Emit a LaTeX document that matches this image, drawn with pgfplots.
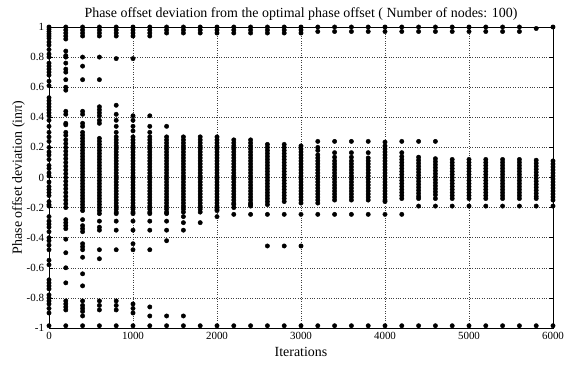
\documentclass[border=0pt]{standalone}
\usepackage{pgfplots}
\pgfplotsset{compat=1.18}
\usepackage{fontspec}
\setmainfont{Liberation Serif}
\begin{document}
\begin{tikzpicture}
\path[use as bounding box] (0,0) rectangle (564bp,366bp);
\begin{axis}[
  at={(49bp,38bp)}, anchor=south west,
  width=504bp, height=301bp, scale only axis,
  xmin=0, xmax=6000, ymin=-1, ymax=1,
  xtick={0,1000,2000,3000,4000,5000,6000},
  xticklabels={0,1000,2000,3000,4000,5000,6000},
  ytick={-1,-0.8,-0.6,-0.4,-0.2,0,0.2,0.4,0.6,0.8,1},
  yticklabels={-1,-0.8,-0.6,-0.4,-0.2,0,0.2,0.4,0.6,0.8,1},
  tick align=inside, tick pos=both, major tick length=4bp,
  grid=major, grid style={dotted, black!75, line width=0.5pt},
  axis line style={black, line width=0.6pt},
  tick style={black, line width=0.5pt},
  tick label style={font=\fontsize{11}{13}\selectfont},
  xticklabel style={yshift=-1bp},
  yticklabel style={xshift=-1.5bp},
  title={Phase offset deviation from the optimal phase offset ( Number of nodes: 100)},
  title style={font=\fontsize{14}{16}\selectfont, yshift=-3bp},
  xlabel={Iterations}, ylabel={Phase offset deviation (inπ)},
  label style={font=\fontsize{14}{16}\selectfont},
  xlabel style={yshift=-1bp}, ylabel style={yshift=-5bp},
  clip=false,
]
\addplot[only marks, mark=*, mark size=2.2bp, black] coordinates {
(0,1)(0,0.985)(0,0.97)(0,0.955)(0,0.94)(0,0.925)(0,0.9)(0,0.88)(0,0.85)(0,0.82)(0,0.8)(0,0.76)(0,0.74)(0,0.72)(0,0.7)(0,0.68)(0,0.64)(0,0.61)(0,0.53)(0,0.51)(0,0.49)(0,0.47)(0,0.45)(0,0.43)(0,0.41)(0,0.38)(0,0.34)(0,0.3)(0,0.27)(0,0.24)(0,0.2)(0,0.17)(0,0.15)(0,0.12)(0,0.08)(0,0.06)(0,0.03)(0,0.01)(0,-0.03)(0,-0.06)(0,-0.08)(0,-0.1)(0,-0.12)(0,-0.16)(0,-0.18)(0,-0.19)(0,-0.26)(0,-0.29)(0,-0.31)(0,-0.33)(0,-0.36)(0,-0.4)(0,-0.42)(0,-0.45)(0,-0.48)(0,-0.55)(0,-0.58)(0,-0.68)(0,-0.7)(0,-0.72)(0,-0.74)(0,-0.78)(0,-0.8)(0,-0.82)(0,-0.84)(0,-0.87)(0,-0.9)(0,-0.985)
(200,1)(200,0.98)(200,0.96)(200,0.94)(200,0.92)(200,0.84)(200,0.81)(200,0.8)(200,0.76)(200,0.72)(200,0.7)(200,0.65)(200,0.6)(200,0.58)(200,0.44)(200,0.42)(200,0.36)(200,0.35)(200,0.3)(200,0.28)
(200,0.25)(200,0.225)(200,0.2)(200,0.175)(200,0.15)(200,0.125)(200,0.1)(200,0.075)(200,0.05)(200,0.025)(200,0)(200,-0.025)(200,-0.05)(200,-0.075)(200,-0.1)(200,-0.125)(200,-0.15)(200,-0.175)(200,-0.2)
(200,-0.28)(200,-0.3)(200,-0.32)(200,-0.34)(200,-0.41)(200,-0.5)(200,-0.6)(200,-0.7)(200,-0.82)(200,-0.84)(200,-0.86)(200,-0.88)(200,-0.985)
(400,1)(400,0.98)(400,0.96)(400,0.94)(400,0.8)(400,0.74)(400,0.65)(400,0.44)(400,0.42)(400,0.36)(400,0.34)(400,0.3)
(400,0.28)(400,0.26)(400,0.24)(400,0.22)(400,0.2)(400,0.18)(400,0.16)(400,0.14)(400,0.12)(400,0.1)(400,0.08)(400,0.06)(400,0.04)(400,0.02)(400,0)(400,-0.02)(400,-0.04)(400,-0.06)(400,-0.08)(400,-0.1)(400,-0.12)(400,-0.14)(400,-0.16)(400,-0.18)(400,-0.2)(400,-0.22)
(400,-0.28)(400,-0.32)(400,-0.34)(400,-0.36)(400,-0.44)(400,-0.46)(400,-0.48)(400,-0.53)(400,-0.64)(400,-0.72)(400,-0.82)(400,-0.85)(400,-0.87)(400,-0.89)(400,-0.92)(400,-0.985)
(600,1)(600,0.98)(600,0.96)(600,0.94)(600,0.8)(600,0.65)(600,0.47)(600,0.45)(600,0.43)(600,0.41)(600,0.38)(600,0.36)
(600,0.26)(600,0.24)(600,0.22)(600,0.2)(600,0.18)(600,0.16)(600,0.14)(600,0.12)(600,0.1)(600,0.08)(600,0.06)(600,0.04)(600,0.02)(600,0)(600,-0.02)(600,-0.04)(600,-0.06)(600,-0.08)(600,-0.1)(600,-0.12)(600,-0.14)(600,-0.16)(600,-0.18)(600,-0.2)(600,-0.22)(600,-0.24)
(600,-0.29)(600,-0.33)(600,-0.35)(600,-0.48)(600,-0.54)(600,-0.82)(600,-0.85)(600,-0.88)(600,-0.985)
(800,1)(800,0.98)(800,0.96)(800,0.94)(800,0.79)(800,0.48)(800,0.42)(800,0.38)(800,0.34)(800,0.3)
(800,0.27)(800,0.25)(800,0.23)(800,0.21)(800,0.19)(800,0.17)(800,0.15)(800,0.13)(800,0.11)(800,0.09)(800,0.07)(800,0.05)(800,0.03)(800,0.01)(800,-0.01)(800,-0.03)(800,-0.05)(800,-0.07)(800,-0.09)(800,-0.11)(800,-0.13)(800,-0.15)(800,-0.17)(800,-0.19)(800,-0.21)(800,-0.23)(800,-0.24)
(800,-0.29)(800,-0.35)(800,-0.48)(800,-0.82)(800,-0.85)(800,-0.88)(800,-0.985)
(1000,1)(1000,0.98)(1000,0.96)(1000,0.94)(1000,0.79)(1000,0.41)(1000,0.38)(1000,0.34)(1000,0.31)
(1000,0.27)(1000,0.25)(1000,0.23)(1000,0.21)(1000,0.19)(1000,0.17)(1000,0.15)(1000,0.13)(1000,0.11)(1000,0.09)(1000,0.07)(1000,0.05)(1000,0.03)(1000,0.01)(1000,-0.01)(1000,-0.03)(1000,-0.05)(1000,-0.07)(1000,-0.09)(1000,-0.11)(1000,-0.13)(1000,-0.15)(1000,-0.17)(1000,-0.19)(1000,-0.21)(1000,-0.23)(1000,-0.24)
(1000,-0.29)(1000,-0.35)(1000,-0.44)(1000,-0.48)(1000,-0.84)(1000,-0.87)(1000,-0.9)(1000,-0.985)
(1200,1)(1200,0.98)(1200,0.96)(1200,0.94)(1200,0.41)(1200,0.34)(1200,0.3)
(1200,0.27)(1200,0.25)(1200,0.23)(1200,0.21)(1200,0.19)(1200,0.17)(1200,0.15)(1200,0.13)(1200,0.11)(1200,0.09)(1200,0.07)(1200,0.05)(1200,0.03)(1200,0.01)(1200,-0.01)(1200,-0.03)(1200,-0.05)(1200,-0.07)(1200,-0.09)(1200,-0.11)(1200,-0.13)(1200,-0.15)(1200,-0.17)(1200,-0.19)(1200,-0.21)(1200,-0.23)(1200,-0.24)
(1200,-0.29)(1200,-0.35)(1200,-0.48)(1200,-0.86)(1200,-0.92)(1200,-0.985)
(1400,1)(1400,0.98)(1400,0.96)(1400,0.34)
(1400,0.27)(1400,0.25)(1400,0.23)(1400,0.21)(1400,0.19)(1400,0.17)(1400,0.15)(1400,0.13)(1400,0.11)(1400,0.09)(1400,0.07)(1400,0.05)(1400,0.03)(1400,0.01)(1400,-0.01)(1400,-0.03)(1400,-0.05)(1400,-0.07)(1400,-0.09)(1400,-0.11)(1400,-0.13)(1400,-0.15)(1400,-0.17)(1400,-0.19)(1400,-0.21)(1400,-0.23)(1400,-0.24)
(1400,-0.29)(1400,-0.35)(1400,-0.42)(1400,-0.92)(1400,-0.985)
(1600,1)(1600,0.98)(1600,0.96)
(1600,0.27)(1600,0.25)(1600,0.23)(1600,0.21)(1600,0.19)(1600,0.17)(1600,0.15)(1600,0.13)(1600,0.11)(1600,0.09)(1600,0.07)(1600,0.05)(1600,0.03)(1600,0.01)(1600,-0.01)(1600,-0.03)(1600,-0.05)(1600,-0.07)(1600,-0.09)(1600,-0.11)(1600,-0.13)(1600,-0.15)(1600,-0.17)(1600,-0.19)(1600,-0.21)(1600,-0.23)
(1600,-0.26)(1600,-0.3)(1600,-0.35)(1600,-0.92)(1600,-0.985)
(1800,1)(1800,0.98)(1800,0.96)
(1800,0.27)(1800,0.25)(1800,0.23)(1800,0.21)(1800,0.19)(1800,0.17)(1800,0.15)(1800,0.13)(1800,0.11)(1800,0.09)(1800,0.07)(1800,0.05)(1800,0.03)(1800,0.01)(1800,-0.01)(1800,-0.03)(1800,-0.05)(1800,-0.07)(1800,-0.09)(1800,-0.11)(1800,-0.13)(1800,-0.15)(1800,-0.17)(1800,-0.19)(1800,-0.21)(1800,-0.23)
(1800,-0.3)(1800,-0.985)
(2000,1)(2000,0.98)(2000,0.96)
(2000,0.27)(2000,0.25)(2000,0.23)(2000,0.21)(2000,0.19)(2000,0.17)(2000,0.15)(2000,0.13)(2000,0.11)(2000,0.09)(2000,0.07)(2000,0.05)(2000,0.03)(2000,0.01)(2000,-0.01)(2000,-0.03)(2000,-0.05)(2000,-0.07)(2000,-0.09)(2000,-0.11)(2000,-0.13)(2000,-0.15)(2000,-0.17)(2000,-0.19)(2000,-0.21)(2000,-0.22)
(2000,-0.26)(2000,-0.985)
(2200,1)(2200,0.98)(2200,0.96)
(2200,0.25)(2200,0.23)(2200,0.21)(2200,0.19)(2200,0.17)(2200,0.15)(2200,0.13)(2200,0.11)(2200,0.09)(2200,0.07)(2200,0.05)(2200,0.03)(2200,0.01)(2200,-0.01)(2200,-0.03)(2200,-0.05)(2200,-0.07)(2200,-0.09)(2200,-0.11)(2200,-0.13)(2200,-0.15)(2200,-0.17)(2200,-0.18)
(2200,-0.2)(2200,-0.245)(2200,-0.985)
(2400,1)(2400,0.98)(2400,0.96)
(2400,0.25)(2400,0.23)(2400,0.21)(2400,0.19)(2400,0.17)(2400,0.15)(2400,0.13)(2400,0.11)(2400,0.09)(2400,0.07)(2400,0.05)(2400,0.03)(2400,0.01)(2400,-0.01)(2400,-0.03)(2400,-0.05)(2400,-0.07)(2400,-0.09)(2400,-0.11)(2400,-0.13)(2400,-0.15)(2400,-0.17)(2400,-0.18)
(2400,-0.19)(2400,-0.245)(2400,-0.985)
(2600,1)(2600,0.98)(2600,0.96)
(2600,0.22)(2600,0.2)(2600,0.18)(2600,0.16)(2600,0.14)(2600,0.12)(2600,0.1)(2600,0.08)(2600,0.06)(2600,0.04)(2600,0.02)(2600,0)(2600,-0.02)(2600,-0.04)(2600,-0.06)(2600,-0.08)(2600,-0.1)(2600,-0.12)(2600,-0.14)(2600,-0.16)(2600,-0.18)
(2600,-0.245)(2600,-0.455)(2600,-0.985)
(2800,1)(2800,0.98)(2800,0.96)
(2800,0.22)(2800,0.2)(2800,0.18)(2800,0.16)(2800,0.14)(2800,0.12)(2800,0.1)(2800,0.08)(2800,0.06)(2800,0.04)(2800,0.02)(2800,0)(2800,-0.02)(2800,-0.04)(2800,-0.06)(2800,-0.08)(2800,-0.1)(2800,-0.12)(2800,-0.14)(2800,-0.16)
(2800,-0.245)(2800,-0.455)(2800,-0.985)
(3000,1)(3000,0.98)(3000,0.96)
(3000,0.21)(3000,0.19)(3000,0.17)(3000,0.15)(3000,0.13)(3000,0.11)(3000,0.09)(3000,0.07)(3000,0.05)(3000,0.03)(3000,0.01)(3000,-0.01)(3000,-0.03)(3000,-0.05)(3000,-0.07)(3000,-0.09)(3000,-0.11)(3000,-0.13)(3000,-0.15)(3000,-0.17)
(3000,-0.245)(3000,-0.455)(3000,-0.985)
(3200,1)(3200,0.97)
(3200,0.24)(3200,0.2)(3200,0.18)(3200,0.15)(3200,0.13)(3200,0.11)(3200,0.09)(3200,0.07)(3200,0.05)(3200,0.03)(3200,0.01)(3200,-0.01)(3200,-0.03)(3200,-0.05)(3200,-0.07)(3200,-0.09)(3200,-0.11)(3200,-0.13)(3200,-0.15)(3200,-0.17)
(3200,-0.245)(3200,-0.985)
(3400,1)(3400,0.97)
(3400,0.24)(3400,0.165)(3400,0.135)(3400,0.11)(3400,0.09)(3400,0.07)(3400,0.05)(3400,0.03)(3400,0.01)(3400,-0.01)(3400,-0.03)(3400,-0.05)(3400,-0.07)(3400,-0.09)(3400,-0.11)(3400,-0.13)(3400,-0.15)
(3400,-0.245)(3400,-0.985)
(3600,1)(3600,0.97)
(3600,0.24)(3600,0.165)(3600,0.135)(3600,0.11)(3600,0.09)(3600,0.07)(3600,0.05)(3600,0.03)(3600,0.01)(3600,-0.01)(3600,-0.03)(3600,-0.05)(3600,-0.07)(3600,-0.09)(3600,-0.11)(3600,-0.13)(3600,-0.15)
(3600,-0.245)(3600,-0.985)
(3800,1)(3800,0.97)
(3800,0.24)(3800,0.165)(3800,0.13)(3800,0.11)(3800,0.09)(3800,0.07)(3800,0.05)(3800,0.03)(3800,0.01)(3800,-0.01)(3800,-0.03)(3800,-0.05)(3800,-0.07)(3800,-0.09)(3800,-0.11)(3800,-0.13)(3800,-0.15)
(3800,-0.245)(3800,-0.985)
(4000,1)(4000,0.97)
(4000,0.235)(4000,0.21)(4000,0.19)(4000,0.17)(4000,0.15)(4000,0.13)(4000,0.11)(4000,0.09)(4000,0.07)(4000,0.05)(4000,0.03)(4000,0.01)(4000,-0.01)(4000,-0.03)(4000,-0.05)(4000,-0.07)(4000,-0.09)(4000,-0.11)(4000,-0.13)(4000,-0.15)(4000,-0.16)
(4000,-0.245)(4000,-0.985)
(4200,1)(4200,0.97)
(4200,0.24)(4200,0.165)(4200,0.14)(4200,0.12)(4200,0.1)(4200,0.08)(4200,0.06)(4200,0.04)(4200,0.02)(4200,0)(4200,-0.02)(4200,-0.04)(4200,-0.06)(4200,-0.08)(4200,-0.1)(4200,-0.12)(4200,-0.14)
(4200,-0.245)(4200,-0.985)
(4400,1)(4400,0.97)
(4400,0.24)(4400,0.135)(4400,0.115)(4400,0.095)(4400,0.075)(4400,0.055)(4400,0.035)(4400,0.015)(4400,-0.005)(4400,-0.025)(4400,-0.045)(4400,-0.065)(4400,-0.085)(4400,-0.105)(4400,-0.125)(4400,-0.14)
(4400,-0.19)(4400,-0.985)
(4600,1)(4600,0.97)
(4600,0.24)(4600,0.125)(4600,0.105)(4600,0.085)(4600,0.065)(4600,0.045)(4600,0.025)(4600,0.005)(4600,-0.015)(4600,-0.035)(4600,-0.055)(4600,-0.075)(4600,-0.095)(4600,-0.115)(4600,-0.14)
(4600,-0.19)(4600,-0.985)
(4800,1)(4800,0.97)
(4800,0.12)(4800,0.1)(4800,0.08)(4800,0.06)(4800,0.04)(4800,0.02)(4800,0)(4800,-0.02)(4800,-0.04)(4800,-0.06)(4800,-0.08)(4800,-0.1)(4800,-0.12)(4800,-0.14)
(4800,-0.19)(4800,-0.985)
(5000,1)(5000,0.97)
(5000,0.12)(5000,0.1)(5000,0.08)(5000,0.06)(5000,0.04)(5000,0.02)(5000,0)(5000,-0.02)(5000,-0.04)(5000,-0.06)(5000,-0.08)(5000,-0.1)(5000,-0.12)(5000,-0.14)
(5000,-0.19)(5000,-0.985)
(5200,1)(5200,0.97)
(5200,0.12)(5200,0.1)(5200,0.08)(5200,0.06)(5200,0.04)(5200,0.02)(5200,0)(5200,-0.02)(5200,-0.04)(5200,-0.06)(5200,-0.08)(5200,-0.1)(5200,-0.12)(5200,-0.14)
(5200,-0.19)(5200,-0.985)
(5400,1)(5400,0.97)
(5400,0.12)(5400,0.1)(5400,0.08)(5400,0.06)(5400,0.04)(5400,0.02)(5400,0)(5400,-0.02)(5400,-0.04)(5400,-0.06)(5400,-0.08)(5400,-0.1)(5400,-0.12)(5400,-0.14)
(5400,-0.19)(5400,-0.985)
(5600,1)(5600,0.97)
(5600,0.12)(5600,0.1)(5600,0.08)(5600,0.06)(5600,0.04)(5600,0.02)(5600,0)(5600,-0.02)(5600,-0.04)(5600,-0.06)(5600,-0.08)(5600,-0.1)(5600,-0.12)(5600,-0.14)
(5600,-0.19)(5600,-0.985)
(5800,0.99)
(5800,0.115)(5800,0.095)(5800,0.075)(5800,0.055)(5800,0.035)(5800,0.015)(5800,-0.005)(5800,-0.025)(5800,-0.045)(5800,-0.065)(5800,-0.085)(5800,-0.105)(5800,-0.125)(5800,-0.14)
(5800,-0.19)(5800,-0.985)
(6000,1)
(6000,0.11)(6000,0.09)(6000,0.07)(6000,0.05)(6000,0.03)(6000,0.01)(6000,-0.01)(6000,-0.03)(6000,-0.05)(6000,-0.07)(6000,-0.09)(6000,-0.11)(6000,-0.13)(6000,-0.15)
(6000,-0.19)(6000,-0.985)
};
\end{axis}
\end{tikzpicture}
\end{document}
